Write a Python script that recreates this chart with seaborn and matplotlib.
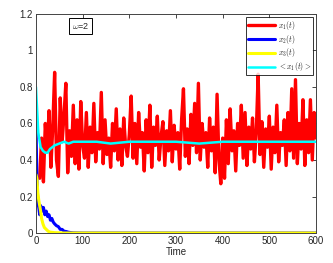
import numpy as np
import pandas as pd
import seaborn as sns
import matplotlib.pyplot as plt

# x1(t): noisy trajectory, sampled every 4 time units from t=8
t_red = list(range(8, 601, 4))
x1 = [0.30, 0.52, 0.28, 0.60, 0.45, 0.67, 0.36, 0.58, 0.88, 0.40,
      0.31, 0.74, 0.50, 0.64, 0.82, 0.33, 0.56, 0.42, 0.70, 0.38,
      0.62, 0.35, 0.72, 0.48, 0.41, 0.66, 0.36, 0.58, 0.44, 0.71,
      0.39, 0.55, 0.46, 0.77, 0.38, 0.62, 0.43, 0.52, 0.36, 0.60,
      0.45, 0.68, 0.40, 0.57, 0.37, 0.63, 0.48, 0.42, 0.54, 0.75,
      0.41, 0.60, 0.38, 0.66, 0.47, 0.55, 0.34, 0.62, 0.44, 0.70,
      0.36, 0.58, 0.48, 0.64, 0.40, 0.53, 0.61, 0.37, 0.56, 0.45,
      0.67, 0.39, 0.59, 0.46, 0.55, 0.35, 0.62, 0.79, 0.42, 0.57,
      0.38, 0.65, 0.48, 0.71, 0.44, 0.82, 0.40, 0.60, 0.47, 0.55,
      0.36, 0.63, 0.45, 0.58, 0.33, 0.76, 0.40, 0.27, 0.52, 0.30,
      0.62, 0.38, 0.68, 0.45, 0.56, 0.34, 0.60, 0.48, 0.70, 0.41,
      0.66, 0.37, 0.58, 0.46, 0.63, 0.39, 0.55, 0.87, 0.43, 0.61,
      0.36, 0.57, 0.47, 0.64, 0.35, 0.58, 0.44, 0.70, 0.39, 0.55,
      0.48, 0.62, 0.37, 0.66, 0.45, 0.79, 0.41, 0.84, 0.38, 0.60,
      0.46, 0.73, 0.37, 0.62, 0.44, 0.73, 0.40, 0.66, 0.52]

t_blue = [0, 2, 4, 6, 8, 10, 13, 16, 19, 22, 25, 28, 31, 34, 37, 40, 44, 48,
          52, 56, 60, 65, 70, 80, 100, 600]
x2 = [0.60, 0.30, 0.16, 0.14, 0.10, 0.15, 0.12, 0.14, 0.10, 0.12, 0.09, 0.10,
      0.07, 0.08, 0.06, 0.05, 0.04, 0.035, 0.02, 0.02, 0.01, 0.008, 0.004,
      0.001, 0.0, 0.0]

t_yel = [0, 2, 4, 6, 8, 10, 12, 15, 18, 22, 26, 30, 40, 60, 600]
x3 = [0.32, 0.30, 0.22, 0.18, 0.15, 0.12, 0.08, 0.05, 0.03, 0.02, 0.01, 0.005,
      0.002, 0.0, 0.0]

t_avg = [0, 5, 10, 15, 20, 25, 30, 40, 50, 60, 70, 80, 100, 130, 160, 200,
         250, 300, 350, 400, 450, 500, 550, 600]
x1_avg = [0.80, 0.55, 0.47, 0.45, 0.44, 0.44, 0.46, 0.48, 0.49, 0.50, 0.49,
          0.50, 0.50, 0.50, 0.49, 0.50, 0.50, 0.50, 0.49, 0.50, 0.50, 0.50,
          0.50, 0.50]

sns.set_style("white")
plt.rcParams['font.family'] = ['Liberation Sans', 'DejaVu Sans']
plt.rcParams['mathtext.fontset'] = 'cm'

fig = plt.figure(figsize=(3.33, 2.63), dpi=100)
ax = fig.add_axes([0.108, 0.114, 0.841, 0.833])

sns.lineplot(x=t_red, y=x1, color='#ff0000', lw=2.4, ax=ax, label=r'$x_1(t)$')
sns.lineplot(x=t_blue, y=x2, color='#0000ff', lw=2.2, ax=ax, label=r'$x_2(t)$')
sns.lineplot(x=t_yel, y=x3, color='#ffff00', lw=2.2, ax=ax, label=r'$x_3(t)$')
sns.lineplot(x=t_avg, y=x1_avg, color='#00ffff', lw=1.8, ax=ax,
             label=r'$<x_1(t)>$')

ax.set_xlim(0, 600)
ax.set_ylim(0, 1.2)
ax.set_xticks([0, 100, 200, 300, 400, 500, 600])
ax.set_yticks([0, 0.2, 0.4, 0.6, 0.8, 1, 1.2])
ax.set_yticklabels(['0', '0.2', '0.4', '0.6', '0.8', '1', '1.2'])
ax.tick_params(direction='in', length=3, width=0.6, labelsize=7,
               top=True, right=True, pad=2)
ax.set_xlabel('Time', fontsize=7, labelpad=1)
ax.set_ylabel('')
for s in ax.spines.values():
    s.set_color('#444444')
    s.set_linewidth(0.7)

leg = ax.legend(loc='upper right', fontsize=5.5, frameon=True, fancybox=False,
                handlelength=3.6, borderpad=0.25, labelspacing=0.1,
                handletextpad=0.3, borderaxespad=0.4)
leg.get_frame().set_edgecolor('black')
leg.get_frame().set_linewidth(0.7)

ax.text(0.16, 0.945, r'$\omega$=2', transform=ax.transAxes, fontsize=6.5,
        ha='center', va='center',
        bbox=dict(boxstyle='square,pad=0.3', fc='white', ec='black', lw=0.7))

plt.savefig('out.png', dpi=100)
